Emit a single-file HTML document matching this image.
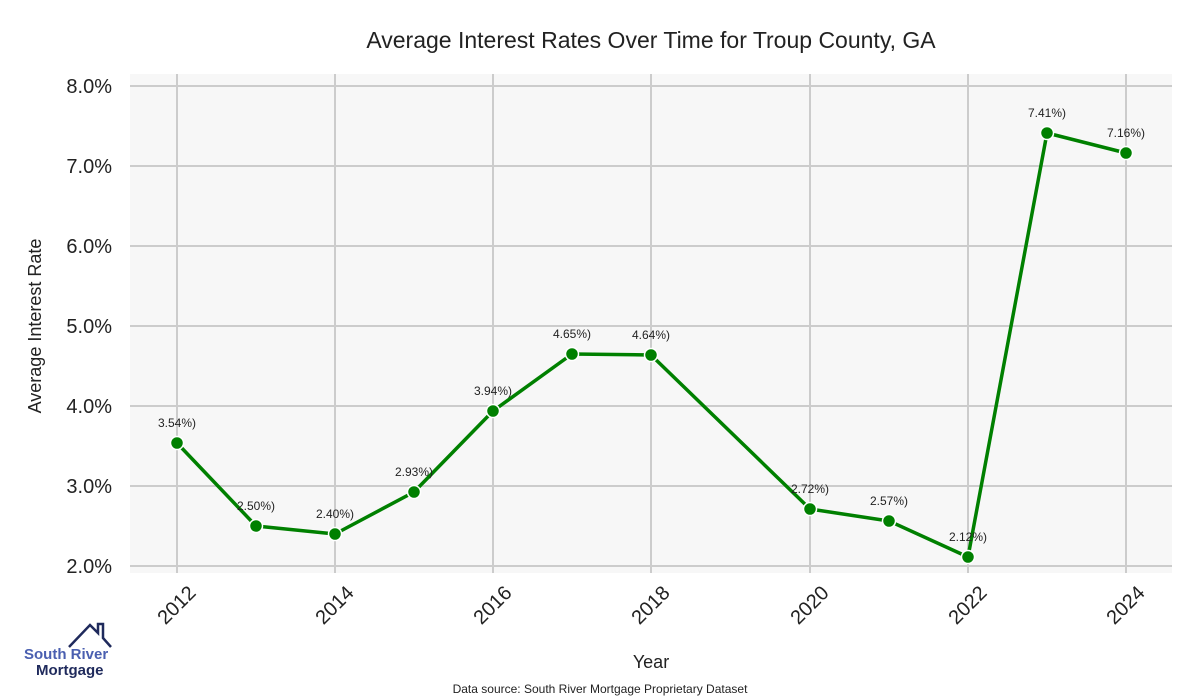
<!DOCTYPE html>
<html><head><meta charset="utf-8"><style>body{margin:0;background:#fff}svg{display:block}</style></head><body>
<svg width="1200" height="700" xmlns="http://www.w3.org/2000/svg" font-family="Liberation Sans, sans-serif">
<rect x="130" y="74" width="1042" height="499" fill="#f7f7f7"/>
<g stroke="#cccccc" stroke-width="2">
<line x1="130" x2="1172" y1="86" y2="86"/><line x1="130" x2="1172" y1="166" y2="166"/><line x1="130" x2="1172" y1="246" y2="246"/><line x1="130" x2="1172" y1="326" y2="326"/><line x1="130" x2="1172" y1="406" y2="406"/><line x1="130" x2="1172" y1="486" y2="486"/><line x1="130" x2="1172" y1="566" y2="566"/>
<line x1="177" x2="177" y1="74" y2="573"/><line x1="335" x2="335" y1="74" y2="573"/><line x1="493" x2="493" y1="74" y2="573"/><line x1="651" x2="651" y1="74" y2="573"/><line x1="810" x2="810" y1="74" y2="573"/><line x1="968" x2="968" y1="74" y2="573"/><line x1="1126" x2="1126" y1="74" y2="573"/>
</g>
<g font-size="20" fill="#222" text-anchor="end">
<text x="112" y="93">8.0%</text><text x="112" y="173">7.0%</text><text x="112" y="253">6.0%</text><text x="112" y="333">5.0%</text><text x="112" y="413">4.0%</text><text x="112" y="493">3.0%</text><text x="112" y="573">2.0%</text>
</g>
<g font-size="20" fill="#222" text-anchor="end">
<text transform="translate(197,594) rotate(-45)">2012</text>
<text transform="translate(355,594) rotate(-45)">2014</text>
<text transform="translate(513,594) rotate(-45)">2016</text>
<text transform="translate(671,594) rotate(-45)">2018</text>
<text transform="translate(830,594) rotate(-45)">2020</text>
<text transform="translate(988,594) rotate(-45)">2022</text>
<text transform="translate(1146,594) rotate(-45)">2024</text>
</g>
<text x="651" y="48" font-size="23" fill="#222" text-anchor="middle">Average Interest Rates Over Time for Troup County, GA</text>
<text x="651" y="668" font-size="18" fill="#222" text-anchor="middle">Year</text>
<text transform="translate(41,326) rotate(-90)" font-size="18" fill="#222" text-anchor="middle">Average Interest Rate</text>
<text x="600" y="693" font-size="12" fill="#222" text-anchor="middle">Data source: South River Mortgage Proprietary Dataset</text>
<polyline fill="none" stroke="#008000" stroke-width="3.5" stroke-linejoin="round" points="177,443 256,526 335,534 414,492 493,411 572,354 651,355 810,509 889,521 968,557 1047,133 1126,153"/>
<g fill="#008000" stroke="#fff" stroke-width="1.5">
<circle cx="177" cy="443" r="6.5"/><circle cx="256" cy="526" r="6.5"/><circle cx="335" cy="534" r="6.5"/><circle cx="414" cy="492" r="6.5"/><circle cx="493" cy="411" r="6.5"/><circle cx="572" cy="354" r="6.5"/><circle cx="651" cy="355" r="6.5"/><circle cx="810" cy="509" r="6.5"/><circle cx="889" cy="521" r="6.5"/><circle cx="968" cy="557" r="6.5"/><circle cx="1047" cy="133" r="6.5"/><circle cx="1126" cy="153" r="6.5"/>
</g>
<g font-size="12" fill="#222" text-anchor="middle">
<text x="177" y="427">3.54%)</text><text x="256" y="510">2.50%)</text><text x="335" y="518">2.40%)</text><text x="414" y="476">2.93%)</text><text x="493" y="395">3.94%)</text><text x="572" y="338">4.65%)</text><text x="651" y="339">4.64%)</text><text x="810" y="493">2.72%)</text><text x="889" y="505">2.57%)</text><text x="968" y="541">2.12%)</text><text x="1047" y="117">7.41%)</text><text x="1126" y="137">7.16%)</text>
</g>
<polyline fill="none" stroke="#1f2a5c" stroke-width="2.5" points="69,647 90,625 98,633 98,624 103,624 103,638 111,647"/>
<text x="24" y="659" font-size="15" font-weight="bold" fill="#4a5fb0">South River</text>
<text x="36" y="675" font-size="15" font-weight="bold" fill="#1f2a5c">Mortgage</text>
</svg>
</body></html>
